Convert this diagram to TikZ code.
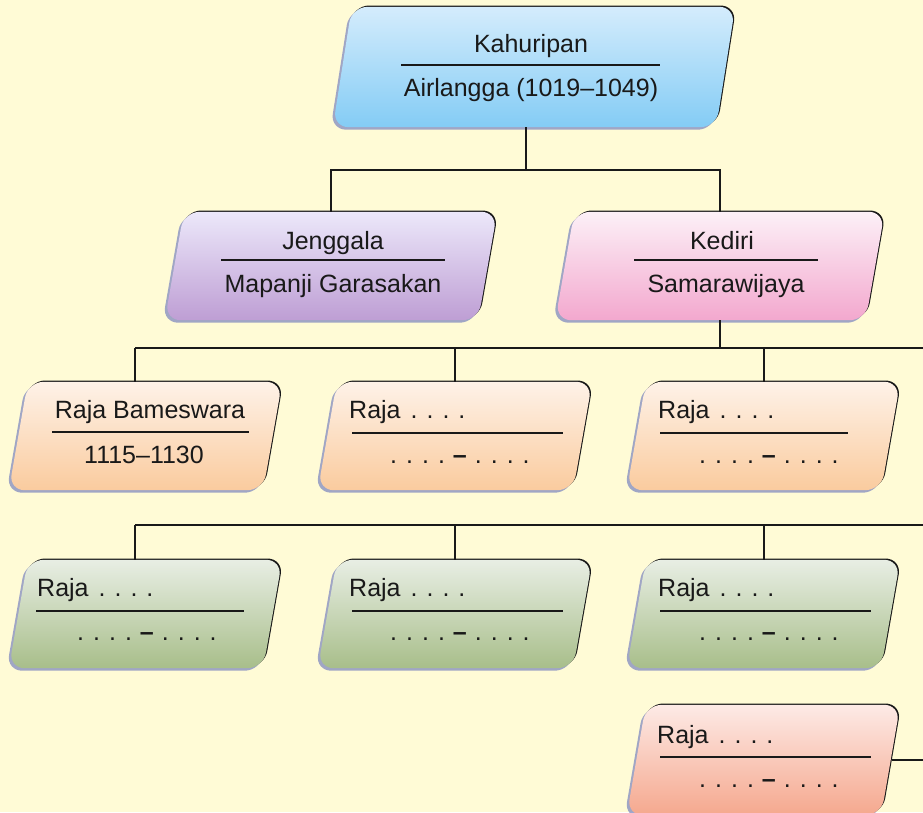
\documentclass[tikz,border=0pt]{standalone}
\usepackage{fontspec}
\setmainfont{Liberation Sans}
\usetikzlibrary{shadows,calc}

\definecolor{bgc}{RGB}{255,251,214}
\definecolor{topT}{RGB}{212,236,252}
\definecolor{topB}{RGB}{132,204,245}
\definecolor{jenT}{RGB}{236,232,250}
\definecolor{jenB}{RGB}{190,158,212}
\definecolor{kedT}{RGB}{252,240,247}
\definecolor{kedB}{RGB}{243,168,206}
\definecolor{peT}{RGB}{254,242,232}
\definecolor{peB}{RGB}{250,203,158}
\definecolor{grT}{RGB}{232,238,228}
\definecolor{grB}{RGB}{168,190,138}
\definecolor{saT}{RGB}{253,234,230}
\definecolor{saB}{RGB}{245,168,142}
\definecolor{shblue}{RGB}{120,130,190}
\definecolor{ink}{RGB}{25,25,25}

\newcommand\fourdots{.\kern9pt.\kern9pt.\kern9pt.}
\newcommand\blankrange{\fourdots\kern8pt{\bfseries –}\kern8pt\fourdots}

\tikzset{
  boxanchor/.style={rectangle, draw=none, inner sep=0pt},
  boxfill/.style={rounded corners=16pt,
    general shadow={shadow xshift=-2.5pt, shadow yshift=-2.5pt, fill=shblue, opacity=0.7},
    general shadow={shadow xshift=1.3pt, shadow yshift=1.3pt, fill=ink}},
  txt/.style={font=\fontsize{25}{30}\selectfont, text=ink, inner sep=0pt, anchor=base},
  txtl/.style={txt, anchor=base west},
  hrule/.style={draw=ink, line width=2.6pt},
  conn/.style={draw=ink, line width=2pt},
}

% #1 name, #2 cx, #3 cy, #4 width, #5 height, #6 top colour, #7 bottom colour
\newcommand\slantbox[7]{%
  \node[boxanchor, minimum width=#4, minimum height=#5] (#1) at (#2,#3) {};
  \path[boxfill, top color=#6, bottom color=#7]
    ([xshift=19pt]#1.north west) -- (#1.north east) -- ([xshift=-19pt]#1.south east)
    -- (#1.south west) -- cycle;
}

\begin{document}
\begin{tikzpicture}[x=1pt,y=-1pt]
\useasboundingbox (0,0) rectangle (923,812);
\clip (0,0) rectangle (923,812);
\fill[bgc] (0,0) rectangle (923,812);

\coordinate (b1) at (526,170);
\coordinate (b2l) at (135,348);
\coordinate (b2r) at (923,348);
\coordinate (b3l) at (135,525);
\coordinate (b3r) at (923,525);

% level 1
\slantbox{top}{534}{67}{402pt}{120pt}{topT}{topB}
\node[txt] (t1a) at (531,52) {Kahuripan};
\draw[hrule] (401,65) -- (660,65);
\node[txt] (t1b) at (531,96) {Airlangga (1019–1049)};

% level 2
\slantbox{jen}{331}{266}{332pt}{108pt}{jenT}{jenB}
\node[txt] (t2a) at (333,249) {Jenggala};
\draw[hrule] (221,260) -- (445,260);
\node[txt] (t2b) at (333,292) {Mapanji Garasakan};

\slantbox{ked}{720}{266}{329pt}{108pt}{kedT}{kedB}
\node[txt] (t3a) at (722,249) {Kediri};
\draw[hrule] (634,260) -- (818,260);
\node[txt] (t3b) at (726,292) {Samarawijaya};

% level 3
\slantbox{r31}{145.5}{436}{273pt}{108pt}{peT}{peB}
\node[txt] (t31a) at (150,418) {Raja Bameswara};
\draw[hrule] (52,432) -- (249,432);
\node[txt] (t31b) at (144,463) {1115–1130};

\slantbox{r32}{455}{436}{274pt}{108pt}{peT}{peB}
\node[txtl] (t32a) at (349,418) {Raja\kern10pt\fourdots};
\draw[hrule] (352,433) -- (563,433);
\node[txtl] (t32b) at (390,463) {\blankrange};

\slantbox{r33}{763.5}{436}{273pt}{108pt}{peT}{peB}
\node[txtl] (t33a) at (658,418) {Raja\kern10pt\fourdots};
\draw[hrule] (660,433) -- (848,433);
\node[txtl] (t33b) at (699,463) {\blankrange};

% level 4
\slantbox{r41}{145.5}{614}{273pt}{108pt}{grT}{grB}
\node[txtl] (t41a) at (37,596) {Raja\kern10pt\fourdots};
\draw[hrule] (36,611) -- (244,611);
\node[txtl] (t41b) at (77,640) {\blankrange};

\slantbox{r42}{455}{614}{274pt}{108pt}{grT}{grB}
\node[txtl] (t42a) at (349,596) {Raja\kern10pt\fourdots};
\draw[hrule] (352,611) -- (563,611);
\node[txtl] (t42b) at (390,640) {\blankrange};

\slantbox{r43}{763.5}{614}{273pt}{108pt}{grT}{grB}
\node[txtl] (t43a) at (658,596) {Raja\kern10pt\fourdots};
\draw[hrule] (660,611) -- (871,611);
\node[txtl] (t43b) at (699,640) {\blankrange};

% level 5
\slantbox{r51}{763.5}{760}{273pt}{110pt}{saT}{saB}
\node[txtl] (t51a) at (657,743) {Raja\kern10pt\fourdots};
\draw[hrule] (660,757) -- (871,757);
\node[txtl] (t51b) at (699,787) {\blankrange};

% connectors
\draw[conn] (top.south -| b1) -- (b1);
\draw[conn] (jen.north) |- (b1) -| (ked.north);

\draw[conn] (ked.south) -- (ked.south |- b2l);
\draw[conn] (b2l) -- (b2r);
\draw[conn] (b2l) -- (b2l |- r31.north);
\draw[conn] (r32.north |- b2l) -- (r32.north);
\draw[conn] (r33.north |- b2l) -- (r33.north);

\draw[conn] (b3l) -- (b3r);
\draw[conn] (b3l) -- (b3l |- r41.north);
\draw[conn] (r42.north |- b3l) -- (r42.north);
\draw[conn] (r43.north |- b3l) -- (r43.north);

\draw[conn] ([xshift=-8pt]r51.east) -- (r51.east -| b3r);
\end{tikzpicture}
\end{document}
